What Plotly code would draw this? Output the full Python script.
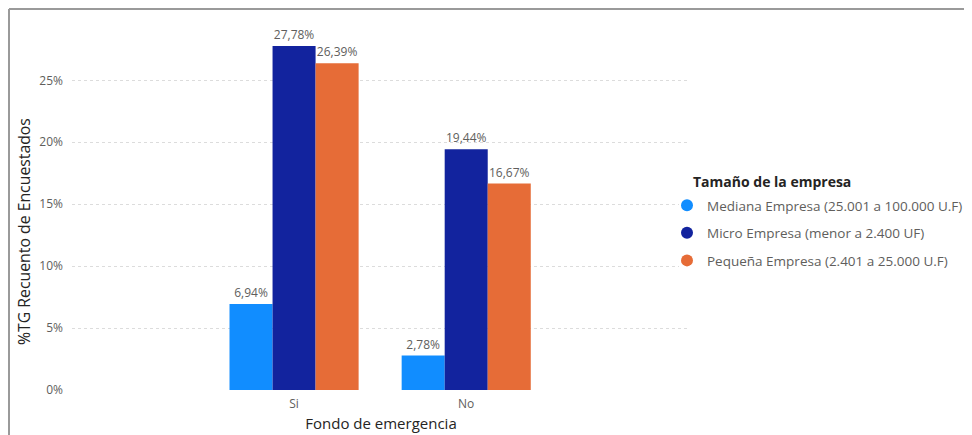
import plotly.graph_objects as go

categories = ["Si", "No"]
series_names = [
    "Mediana Empresa (25.001 a 100.000 U.F)",
    "Micro Empresa (menor a 2.400 UF)",
    "Pequeña Empresa (2.401 a 25.000 U.F)",
]
mediana = [6.94, 2.78]
micro = [27.78, 19.44]
pequena = [26.39, 16.67]
colors = ["#118DFF", "#12239E", "#E66C37"]

# page body has an 8px margin, so the figure is drawn 8px in from the window edge
W, H = 964, 427
ML, MR, MT, MB = 64, 282, 29, 45
pw, ph = W - ML - MR, H - MT - MB

font = "Segoe UI, Open Sans, sans-serif"

def lab(v):
    return f"{v:.2f}".replace(".", ",") + "%"

def px(x):  # figure pixel -> paper x
    return (x - ML) / pw

def py(y):  # figure pixel (from top) -> paper y
    return (H - MB - y) / ph

fig = go.Figure()
for i, (name, vals, col) in enumerate(zip(series_names, [mediana, micro, pequena], colors)):
    fig.add_trace(go.Bar(
        x=categories, y=vals, name=name, marker_color=col,
        marker_line_width=0, text=[lab(v) for v in vals],
        textposition="outside", cliponaxis=False,
        textfont=dict(size=12, color="#605E5C", family=font),
        showlegend=False,
    ))
    # legend entry with round marker
    fig.add_trace(go.Scatter(
        x=[None], y=[None], mode="markers", name=name, legendgroup=f"g{i}",
        marker=dict(color=col, size=10, symbol="circle"),
    ))

fig.update_layout(
    width=W, height=H,
    margin=dict(l=ML, r=MR, t=MT, b=MB, autoexpand=False),
    plot_bgcolor="white", paper_bgcolor="white",
    font=dict(family=font, color="#605E5C", size=12),
    barmode="group", bargap=0.25, bargroupgap=0,
    showlegend=True,
    legend=dict(
        x=px(671), xanchor="left", y=py(182), yanchor="top",
        font=dict(size=13.5, color="#605E5C"), itemsizing="constant",
        tracegroupgap=7, indentation=-12,
    ),
    xaxis=dict(
        range=[-1.29, 2.3], showgrid=False, zeroline=False, showline=False,
        ticks="", tickfont=dict(size=12, color="#605E5C"), ticklabelstandoff=5,
        title=dict(text="Fondo de emergencia", font=dict(size=15, color="#252423"), standoff=7),
    ),
    yaxis=dict(
        range=[0, 28.5], tickvals=[0, 5, 10, 15, 20, 25],
        ticktext=["0%", "5%", "10%", "15%", "20%", "25%"],
        showgrid=True, gridcolor="#DCDCDC", griddash="dot", gridwidth=1,
        zeroline=False, showline=False, ticks="", ticklabelstandoff=8,
        tickfont=dict(size=12, color="#605E5C"),
    ),
    annotations=[
        dict(text="%TG Recuento de Encuestados", textangle=-90, showarrow=False,
             xref="paper", yref="paper", x=px(16), y=py(224),
             xanchor="center", yanchor="middle",
             font=dict(size=15.8, color="#252423")),
        dict(text="<b>Tamaño de la empresa</b>", showarrow=False,
             xref="paper", yref="paper", x=px(683), y=py(173),
             xanchor="left", yanchor="middle",
             font=dict(size=14, color="#252423")),
    ],
    shapes=[
        # visual frame: top and left edges
        dict(type="line", xref="paper", yref="paper",
             x0=px(1), x1=px(W), y0=py(1), y1=py(1),
             line=dict(color="#9A9A9A", width=2)),
        dict(type="line", xref="paper", yref="paper",
             x0=px(1), x1=px(1), y0=py(1), y1=py(H),
             line=dict(color="#9A9A9A", width=2)),
    ],
)

fig.write_html("out.html")
